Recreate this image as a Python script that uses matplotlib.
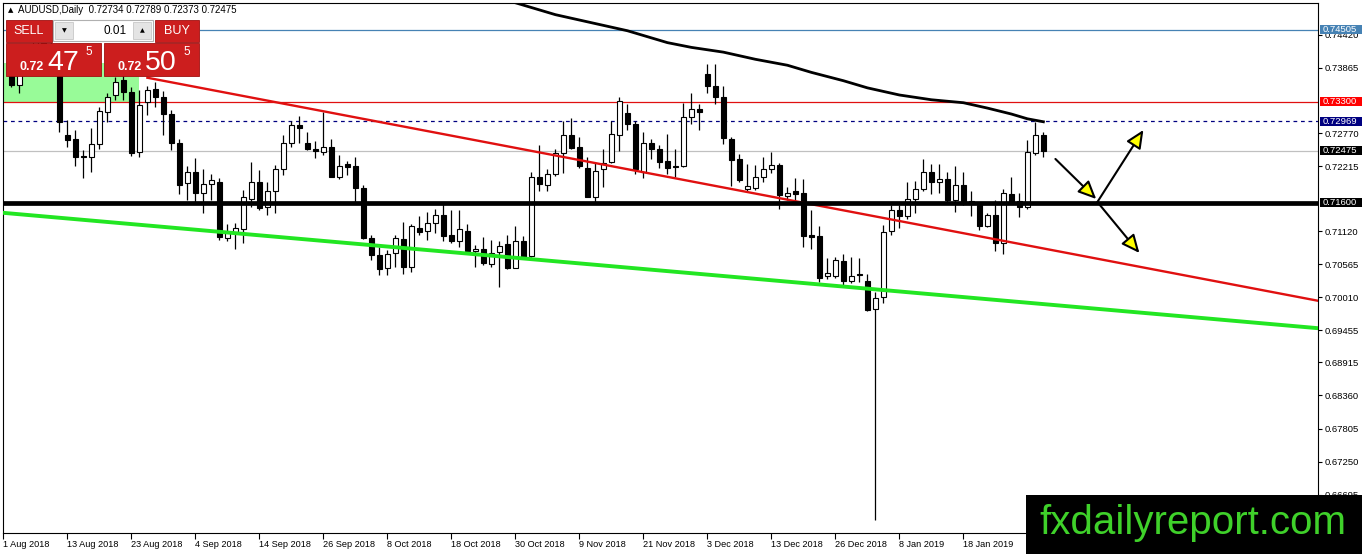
import numpy as np
import matplotlib.pyplot as plt
from matplotlib.patches import Rectangle
from matplotlib.transforms import blended_transform_factory

plt.rcParams['font.family'] = ['Liberation Sans', 'DejaVu Sans']

# AUDUSD daily bars, bar index 1..130 (2 Aug 2018 .. 1 Feb 2019)
opens = [0.7385, 0.7358, 0.7390, 0.7395, 0.7430, 0.7415, 0.7395, 0.7273, 0.7267, 0.7238,
         0.7236, 0.7258, 0.7312, 0.7341, 0.7366, 0.7346, 0.7246, 0.7329, 0.7351, 0.7337,
         0.7309, 0.7260, 0.7193, 0.7211, 0.7176, 0.7191, 0.7194, 0.7100, 0.7111, 0.7115,
         0.7166, 0.7195, 0.7152, 0.7180, 0.7216, 0.7260, 0.7291, 0.7261, 0.7250, 0.7246,
         0.7253, 0.7204, 0.7225, 0.7222, 0.7184, 0.7100, 0.7072, 0.7051, 0.7075, 0.7099,
         0.7052, 0.7117, 0.7112, 0.7126, 0.7139, 0.7106, 0.7095, 0.7112, 0.7079, 0.7082,
         0.7057, 0.7077, 0.7090, 0.7051, 0.7096, 0.7070, 0.7203, 0.7189, 0.7208, 0.7243,
         0.7274, 0.7254, 0.7218, 0.7169, 0.7216, 0.7229, 0.7274, 0.7310, 0.7292, 0.7212,
         0.7260, 0.7251, 0.7230, 0.7222, 0.7222, 0.7304, 0.7318, 0.7376, 0.7356, 0.7337,
         0.7267, 0.7233, 0.7183, 0.7185, 0.7203, 0.7217, 0.7223, 0.7172, 0.7179, 0.7177,
         0.7106, 0.7104, 0.7036, 0.7036, 0.7062, 0.7028, 0.7040, 0.7028, 0.6981, 0.7002,
         0.7112, 0.7148, 0.7138, 0.7167, 0.7183, 0.7211, 0.7194, 0.7199, 0.7165, 0.7190,
         0.7163, 0.7156, 0.7121, 0.7139, 0.7092, 0.7175, 0.7163, 0.7152, 0.7244, 0.72734]
highs = [0.7400, 0.7400, 0.7402, 0.7437, 0.7450, 0.7440, 0.7405, 0.7299, 0.7282, 0.7249,
         0.7285, 0.7321, 0.7344, 0.7371, 0.7378, 0.7355, 0.7349, 0.7356, 0.7362, 0.7347,
         0.7316, 0.7267, 0.7221, 0.7235, 0.7216, 0.7209, 0.7201, 0.7125, 0.7126, 0.7181,
         0.7229, 0.7215, 0.7195, 0.7223, 0.7274, 0.7298, 0.7305, 0.7279, 0.7263, 0.7312,
         0.7267, 0.7240, 0.7230, 0.7236, 0.7190, 0.7106, 0.7086, 0.7081, 0.7106, 0.7128,
         0.7125, 0.7137, 0.7145, 0.7149, 0.7162, 0.7148, 0.7148, 0.7124, 0.7089, 0.7103,
         0.7097, 0.7096, 0.7106, 0.7121, 0.7104, 0.7212, 0.7257, 0.7216, 0.7251, 0.7298,
         0.7302, 0.7271, 0.7236, 0.7226, 0.7251, 0.7298, 0.7337, 0.7326, 0.7298, 0.7278,
         0.7267, 0.7257, 0.7275, 0.7250, 0.7327, 0.7344, 0.7326, 0.7393, 0.7393, 0.7356,
         0.7271, 0.7242, 0.7225, 0.7223, 0.7236, 0.7245, 0.7226, 0.7186, 0.7201, 0.7199,
         0.7148, 0.7120, 0.7067, 0.7069, 0.7073, 0.7068, 0.7067, 0.7041, 0.7010, 0.7123,
         0.7156, 0.7156, 0.7194, 0.7197, 0.7233, 0.7225, 0.7225, 0.7211, 0.7221, 0.7212,
         0.7179, 0.7159, 0.7143, 0.7165, 0.7183, 0.7204, 0.7176, 0.7265, 0.7296, 0.72789]
lows = [0.7354, 0.7345, 0.7378, 0.7390, 0.7410, 0.7385, 0.7279, 0.7253, 0.7222, 0.7201,
        0.7212, 0.7251, 0.7296, 0.7333, 0.7333, 0.7239, 0.7236, 0.7307, 0.7321, 0.7274,
        0.7249, 0.7175, 0.7165, 0.7159, 0.7142, 0.7165, 0.7097, 0.7096, 0.7083, 0.7092,
        0.7153, 0.7148, 0.7139, 0.7142, 0.7207, 0.7253, 0.7260, 0.7249, 0.7235, 0.7240,
        0.7203, 0.7199, 0.7207, 0.7159, 0.7099, 0.7064, 0.7039, 0.7039, 0.7052, 0.7041,
        0.7044, 0.7106, 0.7097, 0.7109, 0.7096, 0.7093, 0.7086, 0.7075, 0.7052, 0.7055,
        0.7052, 0.7018, 0.7048, 0.7050, 0.7067, 0.7069, 0.7180, 0.7180, 0.7205, 0.7210,
        0.7250, 0.7218, 0.7169, 0.7162, 0.7186, 0.7226, 0.7247, 0.7283, 0.7209, 0.7201,
        0.7233, 0.7218, 0.7209, 0.7204, 0.7220, 0.7293, 0.7283, 0.7345, 0.7326, 0.7259,
        0.7188, 0.7195, 0.7180, 0.7181, 0.7194, 0.7210, 0.7149, 0.7165, 0.7162, 0.7085,
        0.7083, 0.7027, 0.7031, 0.7033, 0.7019, 0.7025, 0.7027, 0.6978, 0.6627, 0.6991,
        0.7106, 0.7117, 0.7133, 0.7143, 0.7179, 0.7175, 0.7177, 0.7159, 0.7145, 0.7156,
        0.7137, 0.7114, 0.7119, 0.7078, 0.7073, 0.7159, 0.7136, 0.7149, 0.7240, 0.72373]
closes = [0.7357, 0.7390, 0.7395, 0.7430, 0.7415, 0.7395, 0.7295, 0.7265, 0.7237, 0.7237,
          0.7258, 0.7314, 0.7337, 0.7363, 0.7346, 0.7244, 0.7324, 0.7349, 0.7338, 0.7309,
          0.7260, 0.7190, 0.7212, 0.7176, 0.7191, 0.7198, 0.7103, 0.7111, 0.7117, 0.7169,
          0.7195, 0.7151, 0.7180, 0.7216, 0.7260, 0.7291, 0.7286, 0.7250, 0.7247, 0.7254,
          0.7204, 0.7221, 0.72205, 0.7184, 0.7100, 0.7072, 0.7048, 0.7074, 0.7100, 0.7052,
          0.7121, 0.7110, 0.7126, 0.7139, 0.7104, 0.7095, 0.7115, 0.7078, 0.7082, 0.7058,
          0.7075, 0.7088, 0.7051, 0.7096, 0.7068, 0.7203, 0.7191, 0.7208, 0.7243, 0.7274,
          0.7252, 0.7222, 0.7170, 0.7214, 0.7227, 0.7275, 0.7331, 0.7292, 0.7216, 0.7260,
          0.7251, 0.7229, 0.7218, 0.7220, 0.7304, 0.7317, 0.7312, 0.7356, 0.7337, 0.7268,
          0.7231, 0.7198, 0.7188, 0.7203, 0.7216, 0.7223, 0.7173, 0.7177, 0.7175, 0.7104,
          0.7103, 0.7033, 0.7042, 0.7064, 0.7028, 0.7037, 0.7038, 0.6980, 0.7000, 0.7111,
          0.7148, 0.7138, 0.7167, 0.7183, 0.7212, 0.7194, 0.7199, 0.7165, 0.7189, 0.7159,
          0.7158, 0.7120, 0.7139, 0.7092, 0.7176, 0.7163, 0.7153, 0.7245, 0.7274, 0.72475]

date_label_bars = [0, 8, 16, 24, 32, 40, 48, 56, 64, 72, 80, 88, 96, 104, 112, 120]
date_labels = ['1 Aug 2018', '13 Aug 2018', '23 Aug 2018', '4 Sep 2018', '14 Sep 2018',
               '26 Sep 2018', '8 Oct 2018', '18 Oct 2018', '30 Oct 2018', '9 Nov 2018',
               '21 Nov 2018', '3 Dec 2018', '13 Dec 2018', '26 Dec 2018', '8 Jan 2019',
               '18 Jan 2019']
price_ticks = [0.74420, 0.73865, 0.72770, 0.72215, 0.71120, 0.70565, 0.70010,
               0.69455, 0.68915, 0.68360, 0.67805, 0.67250, 0.66695]

# moving average (black curve)
ma_bars = [60, 64, 69, 74, 78, 83, 86, 90, 94, 98, 101, 105, 108, 112, 116, 120, 123, 126, 128, 130]
ma_vals = [0.7506, 0.7496, 0.7476, 0.7461, 0.7449, 0.7429, 0.7421, 0.7413, 0.7401, 0.7391,
           0.7379, 0.7365, 0.7353, 0.7341, 0.7333, 0.7328, 0.7319, 0.7309, 0.7301, 0.7296]

# trend lines
red_trend_bars = [18, 164.4]
red_trend_prices = [0.7370, 0.6995]
green_trend_bars = [-0.05, 164.4]
green_trend_prices = [0.7143, 0.6949]

# horizontal levels
level_blue = 0.74505
level_red = 0.73300
level_dash = 0.72969
bid = 0.72475
ask = 0.72505
level_support = 0.71600

# highlighted zone
zone_bars = [-0.05, 16.9]
zone_prices = [0.7330, 0.7395]

# scenario arrows (tail bar, tail price) -> (tip bar, tip price)
arrow_tails = [(131.5, 0.72335), (136.75, 0.71612), (136.75, 0.71612)]
arrow_tips = [(136.6, 0.71662), (142.5, 0.72822), (142.0, 0.70755)]

W, H = 1362, 554
fig = plt.figure(figsize=(W / 100, H / 100), dpi=100)
fig.patch.set_facecolor('white')
ax = fig.add_axes([3 / W, 21 / H, 1315 / W, 530 / H])
ax.set_xlim(-0.05, 164.325)
ax.set_ylim(0.66049, 0.74956)

# zone
ax.add_patch(Rectangle((zone_bars[0], zone_prices[0]), zone_bars[1] - zone_bars[0],
                       zone_prices[1] - zone_prices[0], fc='#98fb98', ec='none', zorder=0.5))

# thin horizontal lines
ax.axhline(level_blue, color='#4682b4', lw=0.9, zorder=1)
ax.axhline(level_red, color='#e01010', lw=0.9, zorder=1)
ax.axhline(level_dash, color='#000080', lw=0.9, ls=(0, (3, 3)), zorder=1)
ax.axhline(bid, color='#c0c0c0', lw=0.9, zorder=1)

# candles
o = np.array(opens); h = np.array(highs); l = np.array(lows); c = np.array(closes)
idx = np.arange(1, len(o) + 1)
up = c >= o
ax.vlines(idx, l, h, color='black', lw=0.9, zorder=2)
body_low = np.minimum(o, c)
body_h = np.maximum(np.abs(c - o), 0.00006)
ax.bar(idx[up], body_h[up], bottom=body_low[up], width=0.6, color='white',
       edgecolor='black', lw=0.8, zorder=3)
ax.bar(idx[~up], body_h[~up], bottom=body_low[~up], width=0.6, color='black',
       edgecolor='black', lw=0.8, zorder=3)

# objects
ax.plot(ma_bars, ma_vals, color='black', lw=2.0, zorder=4)
ax.plot(red_trend_bars, red_trend_prices, color='#e01010', lw=1.7, zorder=4)
ax.plot(green_trend_bars, green_trend_prices, color='#22e622', lw=2.8, zorder=4)
ax.axhline(level_support, color='black', lw=3.4, zorder=4)

for tail, tip in zip(arrow_tails, arrow_tips):
    ax.annotate('', xy=tip, xytext=tail,
                arrowprops=dict(arrowstyle='-|>,head_length=1.1,head_width=0.5',
                                fc='#ffff00', ec='black', lw=1.5,
                                shrinkA=0, shrinkB=0), zorder=6)

# axes frame and ticks
for s in ax.spines.values():
    s.set_color('black')
    s.set_linewidth(0.8)
ax.yaxis.tick_right()
ax.set_yticks(price_ticks)
ax.set_yticklabels(['%.5f' % p for p in price_ticks])
ax.tick_params(axis='y', direction='out', length=3, width=0.8, labelsize=6.8, pad=1.5)
ax.set_xticks(date_label_bars)
ax.set_xticklabels(date_labels, ha='left')
ax.tick_params(axis='x', direction='out', length=4, width=0.8, labelsize=6.6, pad=1)

# coloured price labels on the right scale
bt = blended_transform_factory(ax.transAxes, ax.transData)
half = 0.00076
for price, col in [(level_blue, '#4682b4'), (level_red, '#ff0000'), (level_dash, '#000080'),
                   (bid, 'black'), (level_support, 'black')]:
    ax.add_patch(Rectangle((1.0015, price - half), 44 / 1315, 2 * half, transform=bt,
                           fc=col, ec='none', clip_on=False, zorder=9))
    ax.text(1.0038, price, '%.5f' % price, transform=bt, color='white', fontsize=6.8,
            ha='left', va='center', clip_on=False, zorder=10)

# overlay in pixel coordinates: title, trade panel, watermark
ov = fig.add_axes([0, 0, 1, 1], zorder=5)
ov.set_xlim(0, W)
ov.set_ylim(H, 0)
ov.axis('off')
ov.patch.set_alpha(0)

ov.text(8, 10, '\u25b2', fontsize=5, ha='left', va='center', family=['DejaVu Sans'])
ov.text(18, 10, 'AUDUSD,Daily  %.5f %.5f %.5f %.5f' % (opens[-1], highs[-1], lows[-1], closes[-1]),
        fontsize=7, ha='left', va='center')

red = '#cc1e1e'
ov.add_patch(Rectangle((6, 19), 47, 24, fc='white', ec='none'))
ov.add_patch(Rectangle((154, 19), 46, 24, fc='white', ec='none'))
ov.add_patch(Rectangle((6, 20), 46, 22, fc=red, ec='#a01010', lw=0.6))
ov.text(29, 31, 'SELL', color='white', fontsize=9, ha='center', va='center')
ov.add_patch(Rectangle((53, 20), 100, 21, fc='white', ec='#b0b0b0', lw=0.8))
ov.add_patch(Rectangle((55, 22), 18, 17, fc='#e4e4e4', ec='#c8c8c8', lw=0.6))
ov.add_patch(Rectangle((133, 22), 18, 17, fc='#e4e4e4', ec='#c8c8c8', lw=0.6))
ov.text(64, 30.5, '\u25bc', fontsize=4.5, ha='center', va='center', family=['DejaVu Sans'])
ov.text(142, 30.5, '\u25b2', fontsize=4.5, ha='center', va='center', family=['DejaVu Sans'])
ov.text(127, 31, '0.01', fontsize=8.5, ha='right', va='center')
ov.add_patch(Rectangle((155, 20), 44, 22, fc=red, ec='#a01010', lw=0.6))
ov.text(177, 31, 'BUY', color='white', fontsize=9, ha='center', va='center')

for x0, price in [(6, bid), (104, ask)]:
    s = '%.5f' % price
    ov.add_patch(Rectangle((x0, 43), 95, 33, fc=red, ec='#a01010', lw=0.6))
    ov.text(x0 + 13, 70, s[:4], color='white', fontsize=9, fontweight='bold',
            ha='left', va='baseline')
    ov.text(x0 + 41, 70, s[4:6], color='white', fontsize=20.5, ha='left', va='baseline')
    ov.text(x0 + 79, 55, s[6], color='white', fontsize=8.5, ha='left', va='baseline')

ov.add_patch(Rectangle((1026, 495), 336, 59, fc='black', ec='none'))
ov.text(1193, 523, 'fxdailyreport.com', color='#3fd12a', fontsize=29, ha='center', va='center')

fig.savefig('out.png', dpi=100, facecolor='white')
